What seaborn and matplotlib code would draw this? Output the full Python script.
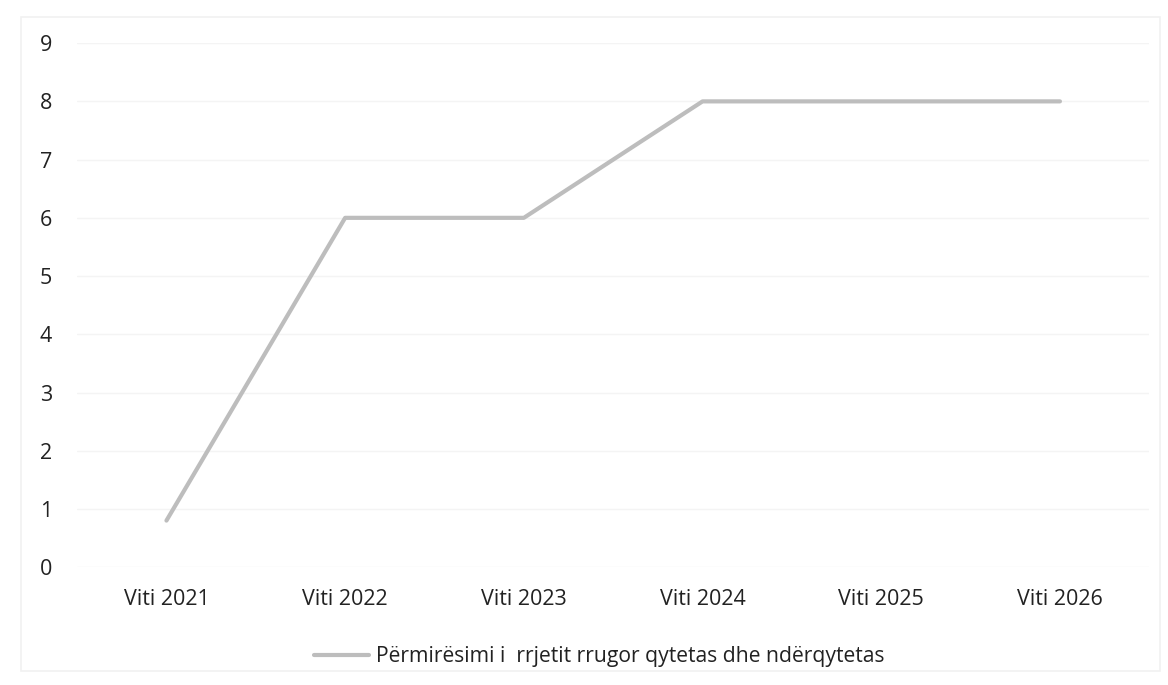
import matplotlib
matplotlib.use("Agg")
import matplotlib.pyplot as plt
import seaborn as sns
import pandas as pd
from matplotlib.patches import Rectangle

years = ["Viti 2021", "Viti 2022", "Viti 2023", "Viti 2024", "Viti 2025", "Viti 2026"]
values = [0.8, 6, 6, 8, 8, 8]
series_name = "Përmirësimi i  rrjetit rrugor qytetas dhe ndërqytetas"
y_ticks = [0, 1, 2, 3, 4, 5, 6, 7, 8, 9]

sns.set_theme(style="white")
plt.rcParams["font.family"] = ["Open Sans", "DejaVu Sans"]

df = pd.DataFrame({"year": years, "value": values, "series": series_name})

fig, ax = plt.subplots(figsize=(11.68, 6.85), dpi=100)
fig.subplots_adjust(left=0.066, right=0.984, top=0.937, bottom=0.172)

# faint frame around the chart area
fig.patches.append(Rectangle((0.018, 0.02), 0.975, 0.955, transform=fig.transFigure,
                             fill=False, edgecolor="#f1f1f1", linewidth=1.2))

sns.lineplot(data=df, x="year", y="value", hue="series", palette=["#bdbdbd"],
             linewidth=3, ax=ax, sort=False)

ax.set_xlim(-0.5, len(years) - 0.5)
ax.set_ylim(0, 9)
ax.set_yticks(y_ticks)
ax.grid(axis="y", color="#f4f4f4", linewidth=1)
ax.set_axisbelow(True)
for s in ax.spines.values():
    s.set_visible(False)
ax.set_xlabel("")
ax.set_ylabel("")
ax.tick_params(axis="both", length=0, labelsize=15.5, colors="#222222")
ax.tick_params(axis="y", pad=18)
ax.tick_params(axis="x", pad=16)

ax.legend(loc="upper center", bbox_to_anchor=(0.487, -0.115), frameon=False,
          fontsize=15.2, handlelength=2.6, handletextpad=0.35,
          labelcolor="#222222")

fig.savefig("out.png", dpi=100, facecolor="white")
